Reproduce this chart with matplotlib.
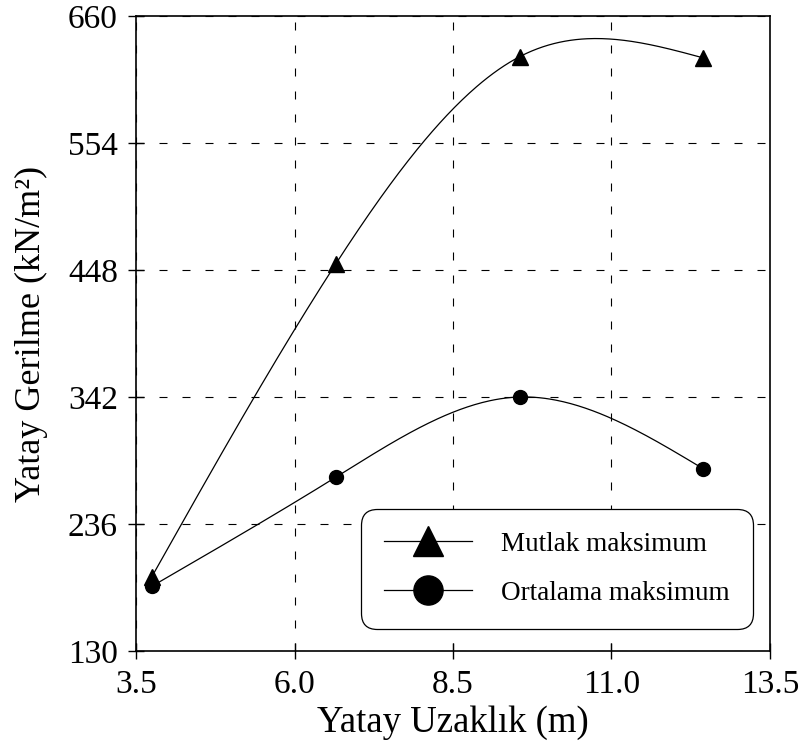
import numpy as np
import matplotlib
matplotlib.use("Agg")
import matplotlib.pyplot as plt
from matplotlib.lines import Line2D

plt.rcParams['font.family'] = ['Liberation Serif', 'DejaVu Serif']

x_vals = [3.75, 6.65, 9.55, 12.45]
mutlak = [192, 453, 626, 625]
ortalama = [184, 275, 342, 282]
series_labels = ["Mutlak maksimum", "Ortalama maksimum"]
x_ticks = [3.5, 6.0, 8.5, 11.0, 13.5]
y_ticks = [130, 236, 342, 448, 554, 660]


def natural_spline(x, y, n=300):
    x = np.asarray(x, float); y = np.asarray(y, float)
    k = len(x); h = np.diff(x)
    A = np.zeros((k, k)); b = np.zeros(k)
    A[0, 0] = 1; A[-1, -1] = 1
    for i in range(1, k - 1):
        A[i, i - 1] = h[i - 1]; A[i, i] = 2 * (h[i - 1] + h[i]); A[i, i + 1] = h[i]
        b[i] = 6 * ((y[i + 1] - y[i]) / h[i] - (y[i] - y[i - 1]) / h[i - 1])
    M = np.linalg.solve(A, b)
    xs = np.linspace(x[0], x[-1], n)
    idx = np.clip(np.searchsorted(x, xs) - 1, 0, k - 2)
    x0 = x[idx]; x1 = x[idx + 1]; hh = x1 - x0
    t1 = x1 - xs; t0 = xs - x0
    ys = (M[idx] * t1**3 + M[idx + 1] * t0**3) / (6 * hh) \
        + (y[idx] / hh - M[idx] * hh / 6) * t1 + (y[idx + 1] / hh - M[idx + 1] * hh / 6) * t0
    return xs, ys


fig = plt.figure(figsize=(8.03, 7.49), dpi=100)
ax = fig.add_axes([136 / 803, 1 - 651 / 749, 634 / 803, 635 / 749])

for vals, mk, ms in [(mutlak, '^', 12), (ortalama, 'o', 10)]:
    xs, ys = natural_spline(x_vals, vals)
    ax.plot(xs, ys, color='black', lw=0.9, zorder=3)
    ax.plot(x_vals, vals, linestyle='none', marker=mk, ms=ms, color='black', zorder=4)

ax.set_xlim(3.5, 13.5)
ax.set_ylim(130, 660)
ax.set_xticks(x_ticks)
ax.set_xticklabels([f"{v:.1f}" for v in x_ticks])
ax.set_yticks(y_ticks)
ax.set_yticklabels([str(v) for v in y_ticks])
ax.grid(True, color='black', linestyle=(0, (7.2, 13.5)), linewidth=0.8)
ax.tick_params(direction='inout', length=12, width=1, labelsize=24)
ax.tick_params(axis='y', pad=7)
ax.tick_params(axis='x', pad=7)
for s in ax.spines.values():
    s.set_linewidth(1.2)

ax.set_xlabel("Yatay Uzaklık (m)", fontsize=26.5, labelpad=4)
ax.set_ylabel("Yatay Gerilme (kN/m²)", fontsize=26, labelpad=14)

handles = [Line2D([], [], color='black', lw=0.9, marker='^', ms=21),
           Line2D([], [], color='black', lw=0.9, marker='o', ms=21)]
leg = ax.legend(handles, series_labels, loc='lower right', bbox_to_anchor=(0.973, 0.035),
                fontsize=19.5, handlelength=3.26, handletextpad=1.07, labelspacing=0.89,
                borderpad=0.85, frameon=True, fancybox=True, framealpha=1, borderaxespad=0)
leg.get_frame().set_edgecolor('black')
leg.get_frame().set_linewidth(0.9)
leg.get_frame().set_boxstyle('round', pad=0.0, rounding_size=0.6)

fig.savefig("out.png", dpi=100)
